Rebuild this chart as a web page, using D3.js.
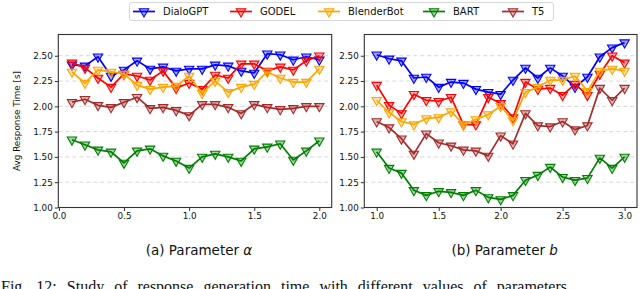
<!DOCTYPE html>
<html>
<head>
<meta charset="utf-8">
<script src="https://cdn.jsdelivr.net/npm/d3@7"></script>
<style>
  body { margin: 0; background: #fff; }
  svg { display: block; }
</style>
</head>
<body>
<svg width="640" height="289"></svg>
<script>
// series names and colours
const models = ['DialoGPT', 'GODEL', 'BlenderBot', 'BART', 'T5'];
const colors = ['#0000ff', '#ff0000', '#ffa500', '#008000', '#a52a2a'];

// panel (a): parameter alpha
const alphaX = [0.1, 0.2, 0.3, 0.4, 0.5, 0.6, 0.7, 0.8, 0.9, 1.0,
                1.1, 1.2, 1.3, 1.4, 1.5, 1.6, 1.7, 1.8, 1.9, 2.0];
const alphaDialoGPT = [2.41, 2.40, 2.49, 2.30, 2.36, 2.45, 2.37, 2.39, 2.35, 2.37,
                       2.37, 2.41, 2.40, 2.35, 2.33, 2.52, 2.51, 2.46, 2.49, 2.46];
const alphaGODEL = [2.43, 2.38, 2.28, 2.19, 2.32, 2.30, 2.26, 2.35, 2.18, 2.23,
                    2.17, 2.31, 2.28, 2.42, 2.42, 2.35, 2.39, 2.36, 2.45, 2.50];
const alphaBlenderBot = [2.34, 2.23, 2.36, 2.34, 2.32, 2.21, 2.17, 2.19, 2.20, 2.30,
                         2.13, 2.25, 2.14, 2.19, 2.22, 2.34, 2.28, 2.24, 2.24, 2.37];
const alphaBART = [1.67, 1.62, 1.57, 1.55, 1.44, 1.56, 1.58, 1.51, 1.46, 1.39,
                   1.50, 1.53, 1.50, 1.46, 1.58, 1.60, 1.63, 1.47, 1.56, 1.66];
const alphaT5 = [2.04, 2.07, 2.01, 1.99, 2.04, 2.09, 1.98, 1.99, 1.96, 1.91,
                 2.02, 2.02, 1.99, 1.93, 2.02, 1.99, 1.97, 1.98, 2.00, 2.00];

// panel (b): parameter b
const bX = [1.0, 1.1, 1.2, 1.3, 1.4, 1.5, 1.6, 1.7, 1.8, 1.9, 2.0,
            2.1, 2.2, 2.3, 2.4, 2.5, 2.6, 2.7, 2.8, 2.9, 3.0];
const bDialoGPT = [2.51, 2.47, 2.45, 2.28, 2.29, 2.19, 2.24, 2.23, 2.17, 2.14, 2.12,
                   2.26, 2.38, 2.28, 2.38, 2.30, 2.19, 2.29, 2.49, 2.58, 2.63];
const bGODEL = [2.21, 2.01, 1.93, 2.12, 2.06, 2.05, 2.09, 1.82, 1.82, 2.09, 2.03,
                1.89, 2.24, 2.17, 2.18, 2.11, 2.22, 2.11, 2.32, 2.50, 2.43];
const bBlenderBot = [2.06, 1.94, 1.85, 1.82, 1.88, 1.89, 1.95, 1.82, 1.87, 1.92, 2.00,
                     1.86, 2.14, 2.19, 2.26, 2.26, 2.30, 2.15, 2.35, 2.37, 2.35];
const bBART = [1.55, 1.39, 1.34, 1.17, 1.12, 1.16, 1.15, 1.12, 1.17, 1.10, 1.08,
               1.12, 1.27, 1.32, 1.40, 1.30, 1.27, 1.29, 1.49, 1.39, 1.50];
const bT5 = [1.85, 1.79, 1.68, 1.53, 1.73, 1.64, 1.61, 1.57, 1.56, 1.51, 1.71,
             1.63, 1.93, 1.81, 1.80, 1.85, 1.77, 1.81, 2.18, 2.06, 2.18];

const yTicks = [1.00, 1.25, 1.50, 1.75, 2.00, 2.25, 2.50];
const alphaTicks = [0.0, 0.5, 1.0, 1.5, 2.0];
const bTicks = [1.0, 1.5, 2.0, 2.5, 3.0];

const svg = d3.select('svg');
const font = 'DejaVu Sans, sans-serif';
const triangle = d3.symbol().type(d3.symbolTriangle).size(38);

function panel(left, right, xDomain, xs, series, xTicks, caption, capItalic, yLabel) {
  const top = 34.5, bottom = 207.5;
  const x = d3.scaleLinear().domain(xDomain).range([left, right]);
  const y = d3.scaleLinear().domain([1.0, 2.71]).range([bottom, top]);
  const g = svg.append('g');

  // grid
  g.selectAll('line.grid').data(yTicks).join('line')
    .attr('x1', left).attr('x2', right)
    .attr('y1', d => y(d)).attr('y2', d => y(d))
    .attr('stroke', '#d6d6d6').attr('stroke-width', 1)
    .attr('stroke-dasharray', '4,3');

  const clip = 'clip' + Math.round(left);
  svg.append('clipPath').attr('id', clip).append('rect')
    .attr('x', left - 6).attr('y', top).attr('width', right - left + 12).attr('height', bottom - top + 8);

  const line = d3.line().x((d, i) => x(xs[i])).y(d => y(d));
  const plot = g.append('g').attr('clip-path', 'url(#' + clip + ')');
  series.forEach((vals, k) => {
    plot.append('path').datum(vals)
      .attr('fill', 'none').attr('stroke', colors[k]).attr('stroke-width', 1.7)
      .attr('stroke-linejoin', 'round').attr('d', line);
    plot.selectAll('path.m' + k).data(vals).join('path')
      .attr('class', 'm' + k)
      .attr('transform', (d, i) => 'translate(' + x(xs[i]) + ',' + y(d) + ') rotate(180)')
      .attr('d', triangle)
      .attr('fill', colors[k]).attr('fill-opacity', 0.35)
      .attr('stroke', colors[k]).attr('stroke-width', 1.1);
  });

  // frame
  g.append('rect').attr('x', left).attr('y', top)
    .attr('width', right - left).attr('height', bottom - top)
    .attr('fill', 'none').attr('stroke', '#333').attr('stroke-width', 1.1);

  const xa = g.append('g').attr('transform', 'translate(0,' + bottom + ')')
    .call(d3.axisBottom(x).tickValues(xTicks).tickFormat(d3.format('.1f')).tickSize(3.5).tickPadding(2));
  const ya = g.append('g').attr('transform', 'translate(' + left + ',0)')
    .call(d3.axisLeft(y).tickValues(yTicks).tickFormat(d3.format('.2f')).tickSize(3.5).tickPadding(2));
  [xa, ya].forEach(a => {
    a.select('.domain').remove();
    a.selectAll('line').attr('stroke', '#333');
    a.selectAll('text').attr('font-family', font).attr('font-size', 8.8).attr('fill', '#111');
  });

  if (yLabel) {
    g.append('text')
      .attr('transform', 'translate(' + 17 + ',' + ((top + bottom) / 2) + ') rotate(-90)')
      .attr('text-anchor', 'middle').attr('dy', '0.35em')
      .attr('font-family', font).attr('font-size', 8.8).attr('fill', '#111')
      .text(yLabel);
  }

  const cap = g.append('text').attr('x', (left + right) / 2 + 4).attr('y', 255)
    .attr('text-anchor', 'middle').attr('font-family', font).attr('font-size', 13.5).attr('fill', '#111');
  cap.append('tspan').text(caption + ' ');
  cap.append('tspan').attr('font-style', 'italic').text(capItalic);
}

panel(58.3, 331.7, [-0.005, 2.095], alphaX,
  [alphaDialoGPT, alphaGODEL, alphaBlenderBot, alphaBART, alphaT5],
  alphaTicks, '(a) Parameter', 'α', 'Avg Response Time [s]');
panel(364.3, 637, [0.9, 3.1], bX,
  [bDialoGPT, bGODEL, bBlenderBot, bBART, bT5],
  bTicks, '(b) Parameter', 'b', null);

// legend
const legendX = [133, 230, 318, 423, 502];
const lg = svg.append('g');
lg.append('rect').attr('x', 129.5).attr('y', 2.5).attr('width', 424).attr('height', 18)
  .attr('rx', 2.5).attr('fill', '#fff').attr('stroke', '#ccc').attr('stroke-width', 0.8);
models.forEach((m, k) => {
  const e = lg.append('g').attr('transform', 'translate(' + legendX[k] + ',11.5)');
  e.append('line').attr('x1', 0).attr('x2', 22).attr('stroke', colors[k]).attr('stroke-width', 1.7);
  e.append('path').attr('d', triangle).attr('transform', 'translate(11,0) rotate(180)')
    .attr('fill', colors[k]).attr('fill-opacity', 0.35).attr('stroke', colors[k]).attr('stroke-width', 1.1);
  e.append('text').attr('x', 30).attr('dy', '0.35em')
    .attr('font-family', font).attr('font-size', 10).attr('fill', '#111').text(m);
});

// figure caption, cut off by the bottom edge as in the source page
svg.append('text').attr('x', 1).attr('y', 292)
  .attr('font-family', 'Liberation Serif, serif').attr('font-size', 16).attr('fill', '#111')
  .attr('word-spacing', 6)
  .text('Fig. 12: Study of response generation time with different values of parameters');
</script>
</body>
</html>
